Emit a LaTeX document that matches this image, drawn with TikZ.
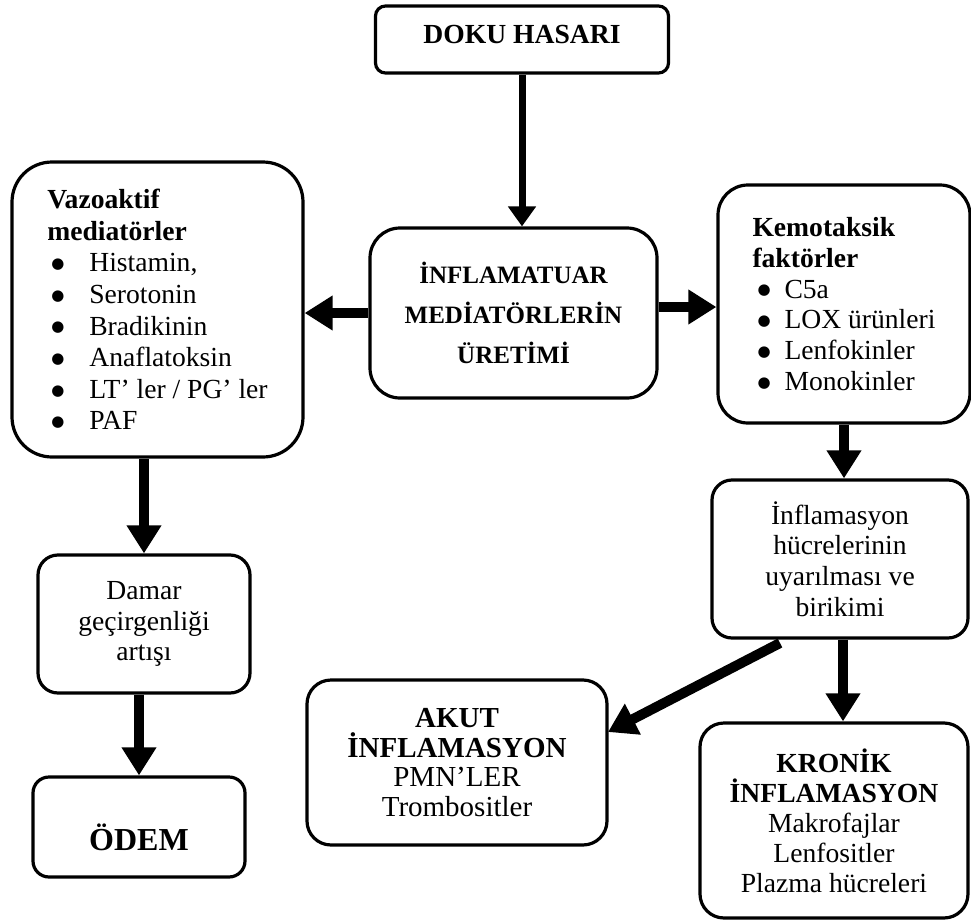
\documentclass[tikz,border=0pt]{standalone}
\usepackage{fontspec}
\setmainfont{Liberation Serif}
\newfontfamily\symfont{DejaVu Sans}
\usetikzlibrary{arrows.meta}
% a solid round list bullet
\newcommand{\bigbul}{\raisebox{1.6pt}{\symfont\fontsize{7.5}{8}\selectfont ●}}

\begin{document}
\begin{tikzpicture}[x=0.5pt,y=-0.5pt,
  box/.style={draw, line width=1.6pt, rounded corners=#1, inner sep=0pt, align=center},
  box/.default=10pt,
  arr/.style={line width=5pt, -{Triangle[length=14pt,width=16.5pt]}},
  thinarr/.style={line width=3.5pt, -{Triangle[length=10pt,width=13.5pt]}}
]
\useasboundingbox (0,0) rectangle (971,922);

% top: tissue damage
\node[box=5pt, minimum width=146.5pt, minimum height=33.5pt] (doku) at (522,39.5) {};
\node[anchor=base, font=\bfseries\fontsize{13.8}{15}\selectfont] (dokut) at (522,43) {DOKU HASARI};

% central box
\node[box=15pt, minimum width=143.5pt, minimum height=85pt,
      font=\bfseries\fontsize{12.5}{20}\selectfont] (inf) at (513.5,313)
  {İNFLAMATUAR\\MEDİATÖRLERİN\\ÜRETİMİ};

% vasoactive mediators
\node[box=20pt, minimum width=145.5pt, minimum height=147.5pt, align=left,
      font=\fontsize{13.8}{15.8}\selectfont] (vaz) at (157.5,309.5)
  {\textbf{Vazoaktif}\\
   \textbf{mediatörler}\\
   \hspace{2pt}\makebox[19pt][l]{\bigbul}Histamin,\\
   \hspace{2pt}\makebox[19pt][l]{\bigbul}Serotonin\\
   \hspace{2pt}\makebox[19pt][l]{\bigbul}Bradikinin\\
   \hspace{2pt}\makebox[19pt][l]{\bigbul}Anaflatoksin\\
   \hspace{2pt}\makebox[19pt][l]{\bigbul}LT’ ler / PG’ ler\\
   \hspace{2pt}\makebox[19pt][l]{\bigbul}PAF};

% chemotactic factors
\node[box=15pt, minimum width=126pt, minimum height=119pt, align=left,
      font=\fontsize{13.8}{15.4}\selectfont] (kem) at (844,304)
  {\textbf{Kemotaksik}\\
   \textbf{faktörler}\\
   \hspace{2.5pt}\makebox[13.5pt][l]{\bigbul}C5a\\
   \hspace{2.5pt}\makebox[13.5pt][l]{\bigbul}LOX ürünleri\\
   \hspace{2.5pt}\makebox[13.5pt][l]{\bigbul}Lenfokinler\\
   \hspace{2.5pt}\makebox[13.5pt][l]{\bigbul}Monokinler};

% cell activation
\node[box=10pt, minimum width=128pt, minimum height=79pt,
      font=\fontsize{13.8}{15.4}\selectfont] (hucre) at (840,559)
  {İnflamasyon\\hücrelerinin\\uyarılması ve\\birikimi};

% vascular permeability
\node[box=10pt, minimum width=106pt, minimum height=69pt,
      font=\fontsize{13.8}{15.3}\selectfont] (damar) at (144,624)
  {Damar\\geçirgenliği\\artışı};

% oedema
\node[box=8pt, minimum width=106pt, minimum height=50pt] (odem) at (139,827) {};
\node[anchor=base, font=\bfseries\fontsize{16}{18}\selectfont] (odemt) at (139,850) {ÖDEM};

% acute inflammation
\node[box=12pt, minimum width=150pt, minimum height=82.5pt,
      font=\fontsize{14.5}{14.7}\selectfont] (akut) at (457,762.5)
  {\textbf{AKUT}\\\textbf{İNFLAMASYON}\\PMN’LER\\Trombositler};

% chronic inflammation
\node[box=12pt, minimum width=134pt, minimum height=97.5pt,
      font=\fontsize{13.8}{15}\selectfont] (kronik) at (834,820.5)
  {\textbf{KRONİK}\\\textbf{İNFLAMASYON}\\Makrofajlar\\Lenfositler\\Plazma hücreleri};

% connectors
\coordinate (dstart) at (780,643);
\coordinate (dend) at (608,732);

\draw[thinarr] (doku.south) -- (doku.south |- inf.north);
\draw[arr] (inf.west) -- (inf.west -| vaz.east);
\draw[arr] ([yshift=3pt]inf.east) -- ([yshift=3pt]inf.east -| kem.west);
\draw[arr] (kem.south) -- (kem.south |- hucre.north);
\draw[arr] ([xshift=1.5pt]hucre.south) -- ([xshift=1.5pt]hucre.south |- kronik.north);
\draw[arr] (dstart) -- (dend);
\draw[arr] (vaz.south -| damar.north) -- (damar.north);
\draw[arr] (damar.south -| odem.north) -- (odem.north);
\end{tikzpicture}
\end{document}
